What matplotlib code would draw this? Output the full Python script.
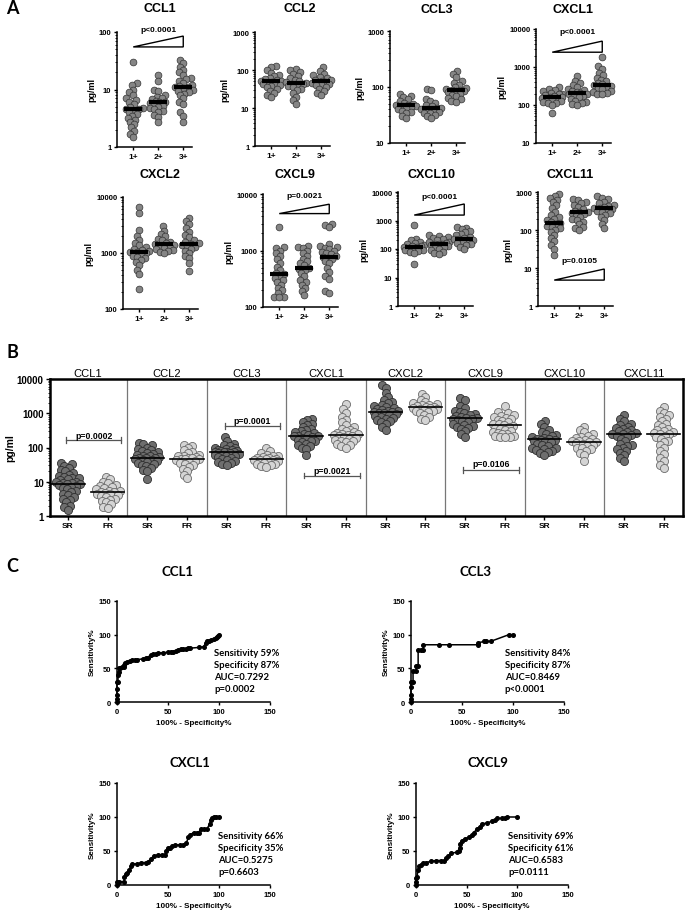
import numpy as np
import matplotlib
matplotlib.use("Agg")
import matplotlib.pyplot as plt
from matplotlib.ticker import LogLocator, NullFormatter
import matplotlib.transforms as mtransforms

plt.rcParams['font.family'] = ['Liberation Sans', 'DejaVu Sans']

# ---------------- panel A data (pg/ml by grade 1+, 2+, 3+) ----------------
ccl1_a = [
    [30, 13, 12, 10, 9, 8, 7, 6.5, 6, 5.5, 5, 4.8, 4.6, 4.5, 4.3, 4, 3.8, 3.5, 3.2, 3, 2.7, 2.5, 2.2, 1.9, 1.7, 1.5],
    [18, 14, 10, 9.5, 8, 7.5, 7, 6.8, 6.3, 6.1, 6, 5.8, 5.5, 5.2, 5, 4.7, 4.5, 4.2, 4, 3.6, 3.3, 2.7],
    [33, 29, 25, 22, 20, 18, 16, 15, 14, 13, 12, 11.5, 11, 11, 10.5, 10, 9.5, 9, 8.5, 8, 7, 6, 5.5, 4, 3.5, 2.7],
]
ccl2_a = [
    [130, 120, 100, 85, 75, 68, 62, 58, 55, 52, 50, 48, 46, 44, 42, 40, 38, 35, 32, 28, 25, 22, 20],
    [105, 100, 90, 80, 70, 62, 56, 50, 47, 45, 44, 42, 40, 38, 35, 32, 30, 25, 20, 16, 13],
    [120, 95, 80, 72, 65, 60, 56, 53, 50, 49, 48, 46, 44, 42, 40, 36, 32, 28, 25, 22],
]
ccl3_a = [
    [75, 70, 65, 60, 56, 52, 50, 48, 47, 46, 45, 44, 42, 40, 38, 36, 34, 30, 28],
    [92, 88, 60, 56, 52, 48, 45, 43, 42, 41, 40, 38, 36, 35, 34, 32, 30, 28],
    [190, 170, 150, 130, 120, 110, 100, 95, 92, 90, 88, 86, 84, 80, 76, 72, 68, 64, 60, 56, 55],
]
cxcl1_a = [
    [290, 270, 250, 230, 210, 200, 190, 180, 170, 165, 160, 155, 150, 145, 140, 130, 120, 115, 110, 100, 60],
    [580, 420, 380, 330, 300, 270, 250, 230, 215, 205, 200, 190, 180, 170, 160, 140, 130, 120, 110, 105, 100],
    [1800, 1050, 900, 700, 600, 520, 460, 420, 380, 350, 330, 320, 300, 280, 260, 240, 220, 210, 200, 190],
]
cxcl2_a = [
    [6500, 5200, 2600, 2000, 1700, 1500, 1400, 1300, 1200, 1150, 1100, 1050, 1050, 1000, 950, 900, 850, 800, 750, 700, 600, 500, 420, 230],
    [3000, 2500, 2200, 2000, 1800, 1700, 1600, 1500, 1450, 1400, 1350, 1300, 1250, 1200, 1150, 1100, 1050, 1000],
    [4300, 3800, 3300, 2800, 2400, 2100, 1900, 1700, 1600, 1500, 1450, 1400, 1350, 1300, 1200, 1100, 1000, 900, 800, 650, 480],
]
cxcl9_a = [
    [2600, 1150, 1100, 1000, 900, 800, 700, 600, 520, 450, 400, 380, 350, 330, 300, 280, 250, 220, 200, 180, 150, 150, 150],
    [1200, 1150, 1100, 1000, 900, 800, 720, 650, 600, 550, 500, 480, 450, 400, 350, 300, 280, 250, 220, 190, 160],
    [3000, 2800, 2600, 1300, 1200, 1150, 1100, 1050, 1000, 950, 900, 850, 800, 780, 750, 700, 650, 600, 500, 420, 350, 310, 190, 180],
]
cxcl10_a = [
    [700, 230, 200, 180, 160, 150, 140, 130, 125, 120, 115, 110, 100, 95, 90, 85, 80, 70, 30],
    [300, 280, 260, 240, 220, 200, 180, 170, 160, 155, 150, 145, 140, 130, 120, 110, 100, 90, 80, 70, 65],
    [600, 550, 500, 420, 380, 330, 300, 270, 250, 230, 220, 210, 200, 180, 160, 150, 140, 120, 100],
]
cxcl11_a = [
    [900, 800, 700, 600, 550, 450, 380, 300, 250, 220, 200, 180, 160, 150, 140, 130, 120, 110, 100, 90, 75, 60, 50, 40, 32, 22],
    [650, 600, 550, 500, 450, 400, 350, 320, 300, 290, 280, 260, 240, 220, 200, 180, 160, 140, 120, 110, 100],
    [800, 700, 650, 550, 500, 450, 420, 400, 380, 370, 360, 340, 320, 300, 280, 250, 220, 180, 140, 110],
]
a_names = ['CCL1', 'CCL2', 'CCL3', 'CXCL1', 'CXCL2', 'CXCL9', 'CXCL10', 'CXCL11']
a_data = [ccl1_a, ccl2_a, ccl3_a, cxcl1_a, cxcl2_a, cxcl9_a, cxcl10_a, cxcl11_a]
a_medians = [[4.6, 6.1, 11], [52, 45, 50], [47, 42, 88], [165, 205, 330],
             [1050, 1450, 1450], [390, 490, 780], [120, 150, 220], [150, 290, 370]]
a_yticks = [[1, 10, 100], [1, 10, 100, 1000], [10, 100, 1000], [10, 100, 1000, 10000],
            [100, 1000, 10000], [100, 1000, 10000], [1, 10, 100, 1000, 10000], [1, 10, 100, 1000]]
a_grades = ['1+', '2+', '3+']
# trend triangles: low, high, p text, text y
a_trends = {
    'CCL1': (55, 85, 'p<0.0001', 110),
    'CXCL1': (2450, 4800, 'p<0.0001', 8600),
    'CXCL9': (4500, 6600, 'p=0.0021', 9600),
    'CXCL10': (1550, 3800, 'p<0.0001', 7200),
    'CXCL11': (4.8, 9.4, 'p=0.0105', 16),
}

# ---------------- panel B data (SR vs FR) ----------------
b_names = ['CCL1', 'CCL2', 'CCL3', 'CXCL1', 'CXCL2', 'CXCL9', 'CXCL10', 'CXCL11']
b_sr = [
    [35, 32, 28, 25, 22, 20, 18, 16, 15, 14, 13, 13, 12, 11, 10, 10, 9.5, 9, 8.5, 8.5, 8, 7.5, 7, 6.5, 6, 5.5, 5, 4.5, 4, 3.5, 3.2, 3, 2.5, 2, 1.8, 1.5],
    [135, 125, 115, 100, 90, 85, 80, 75, 70, 65, 60, 58, 55, 52, 50, 50, 48, 46, 44, 42, 40, 38, 35, 32, 30, 28, 25, 22, 20, 12],
    [200, 150, 130, 120, 110, 100, 95, 90, 85, 82, 80, 78, 76, 75, 74, 72, 70, 68, 65, 62, 60, 58, 55, 52, 50, 45, 42, 40, 38, 35, 32, 30],
    [700, 650, 550, 500, 450, 400, 350, 320, 300, 280, 260, 240, 230, 220, 210, 210, 200, 190, 180, 170, 160, 150, 140, 130, 120, 110, 100, 90, 60],
    [6500, 5500, 4000, 3000, 2500, 2200, 2000, 1800, 1600, 1500, 1400, 1300, 1250, 1200, 1150, 1100, 1070, 1050, 1000, 950, 900, 850, 800, 750, 700, 650, 600, 550, 500, 400, 330],
    [2700, 2500, 1600, 1400, 1200, 1100, 1000, 950, 900, 850, 800, 750, 720, 700, 680, 650, 600, 550, 500, 450, 420, 400, 380, 350, 300, 250, 200],
    [600, 500, 400, 320, 280, 250, 230, 210, 200, 190, 180, 175, 170, 165, 160, 150, 140, 130, 120, 110, 100, 95, 90, 85, 80, 75, 70, 60],
    [900, 700, 600, 500, 450, 400, 370, 350, 320, 300, 280, 260, 250, 240, 230, 220, 200, 180, 150, 130, 120, 110, 100, 90, 80, 70, 60, 50, 40],
]
b_fr = [
    [14, 12, 10, 9, 8, 7.5, 7, 6.5, 6, 5.5, 5.2, 5, 5, 4.8, 4.5, 4.3, 4, 3.8, 3.5, 3.2, 3, 2.8, 2.5, 2.2, 1.8, 1.7],
    [120, 110, 100, 85, 75, 70, 62, 58, 55, 52, 50, 48, 47, 46, 45, 42, 40, 38, 36, 33, 30, 27, 24, 20, 16, 13],
    [95, 80, 70, 62, 58, 55, 52, 50, 48, 46, 45, 44, 43, 42, 40, 38, 36, 34, 32, 30, 28, 27],
    [1850, 1300, 1000, 800, 650, 550, 450, 400, 350, 320, 300, 280, 260, 250, 240, 230, 225, 220, 210, 200, 190, 180, 170, 160, 150, 140, 130, 120, 110, 100],
    [3700, 3000, 2500, 2200, 2000, 1900, 1800, 1700, 1600, 1550, 1500, 1450, 1400, 1350, 1300, 1250, 1200, 1150, 1100, 1000, 900, 800, 700, 650],
    [1600, 1100, 1000, 900, 850, 800, 750, 700, 650, 600, 550, 500, 470, 450, 430, 400, 380, 350, 330, 300, 280, 260, 250, 240, 220, 210, 200, 200, 200],
    [400, 320, 280, 250, 220, 200, 190, 180, 170, 160, 150, 145, 140, 135, 130, 120, 110, 100, 95, 90, 80, 70, 60, 40],
    [1500, 1200, 1000, 900, 800, 700, 600, 500, 450, 400, 350, 320, 300, 280, 260, 250, 240, 220, 200, 180, 160, 140, 120, 100, 80, 65, 50, 40, 30, 25],
]
b_med_sr = [8.5, 50, 75, 210, 1070, 720, 175, 250]
b_med_fr = [5, 47, 45, 230, 1500, 450, 145, 250]
# significance brackets: group index, bracket level, text level, text
b_sig = [(0, 165, 230, 'p=0.0002'), (2, 420, 630, 'p=0.0001'),
         (3, 15, 22, 'p=0.0021'), (5, 22, 35, 'p=0.0106')]

# ---------------- panel C data (ROC curves) ----------------
roc_names = ['CCL1', 'CCL3', 'CXCL1', 'CXCL9']
roc_fpr = [
    [0, 0, 0, 0, 0, 1, 1, 2, 2, 3, 5, 7, 7, 8, 10, 13, 15, 18, 20, 25, 28, 30, 33, 35, 38, 40, 45, 50, 53, 55, 58, 60, 63, 65, 68, 70, 72, 80, 85, 87, 88, 90, 92, 95, 97, 98, 99, 100],
    [0, 0, 0, 0, 0, 2, 2, 5, 5, 7, 7, 10, 12, 12, 27, 37, 66, 66, 72, 74, 78, 96, 100],
    [0, 0, 2, 7, 7, 9, 10, 12, 14, 15, 20, 24, 28, 30, 33, 36, 40, 44, 47, 48, 50, 52, 54, 57, 62, 65, 68, 70, 72, 75, 78, 80, 82, 85, 88, 91, 92, 93, 95, 97, 100],
    [0, 0, 0, 1, 2, 3, 5, 7, 10, 15, 20, 25, 28, 30, 32, 35, 40, 42, 43, 43, 45, 48, 52, 55, 57, 60, 63, 65, 70, 75, 78, 80, 85, 88, 90, 100],
]
roc_tpr = [
    [0, 5, 10, 20, 30, 30, 40, 45, 50, 50, 52, 52, 55, 58, 60, 61, 62, 62, 63, 64, 65, 66, 70, 71, 72, 73, 73, 74, 75, 75, 76, 77, 78, 79, 79, 80, 80, 81, 82, 88, 91, 91, 92, 93, 95, 96, 98, 100],
    [0, 5, 10, 22, 30, 30, 46, 46, 54, 54, 77, 77, 77, 85, 85, 85, 85, 88, 90, 90, 90, 100, 100],
    [0, 5, 5, 5, 12, 16, 18, 22, 28, 31, 31, 33, 33, 34, 38, 43, 44, 44, 44, 50, 54, 55, 57, 59, 59, 59, 62, 70, 74, 77, 77, 77, 82, 82, 82, 90, 96, 98, 100, 100, 100],
    [0, 5, 10, 12, 22, 28, 30, 33, 33, 35, 36, 36, 36, 40, 42, 47, 48, 50, 55, 60, 65, 68, 70, 74, 77, 82, 86, 90, 91, 94, 95, 98, 98, 98, 100, 100],
]
roc_stats = [
    ['Sensitivity 59%', 'Specificity 87%', 'AUC=0.7292', 'p=0.0002'],
    ['Sensitivity 84%', 'Specificity 87%', 'AUC=0.8469', 'p<0.0001'],
    ['Sensitivity 66%', 'Specificity 35%', 'AUC=0.5275', 'p=0.6603'],
    ['Sensitivity 69%', 'Specificity 61%', 'AUC=0.6583', 'p=0.0111'],
]

W, H = 685, 912
fig = plt.figure(figsize=(W / 100, H / 100), dpi=100)


def px_axes(l, t, r, b):
    return fig.add_axes([l / W, 1 - b / H, (r - l) / W, (b - t) / H])


def ftext(x, y, s, **kw):
    fig.text(x / W, 1 - y / H, s, ha='center', va='center', **kw)


def swarm(ax, xc, vals, d, wmax):
    # beeswarm in pixel space, offsets limited to +-wmax px (overlap allowed past that)
    pts = ax.transData.transform(np.column_stack([np.full(len(vals), xc), vals]))
    ys = pts[:, 1]
    grid = np.array(sorted(np.arange(-wmax, wmax + 0.01, 0.5), key=abs))
    xs = np.zeros(len(ys))
    px, py = [], []
    for i in np.argsort(ys):
        y = ys[i]
        if px:
            dist = np.sqrt((grid[:, None] - np.array(px)[None, :]) ** 2 + (y - np.array(py)[None, :]) ** 2).min(axis=1)
            ok = np.nonzero(dist >= d)[0]
            xs[i] = grid[ok[0]] if len(ok) else grid[np.argmax(dist)]
        px.append(xs[i])
        py.append(y)
    pts[:, 0] = pts[:, 0] + xs
    return ax.transData.inverted().transform(pts)[:, 0]


def log_axis(ax, ticks, size):
    ax.set_yscale('log')
    ax.set_ylim(ticks[0], ticks[-1])
    ax.set_yticks(ticks)
    ax.set_yticklabels([str(t) for t in ticks], fontweight='bold', fontsize=size)
    ax.yaxis.set_minor_locator(LogLocator(base=10, subs=np.arange(2, 10), numticks=20))
    ax.yaxis.set_minor_formatter(NullFormatter())


# ---------------- panel A ----------------
a_boxes = [(117, 33, 192, 148), (255, 33, 330, 147), (390, 32, 465, 144), (536, 30, 611, 144),
           (123, 198, 198, 310), (263, 195, 338, 308), (398, 193, 473, 307), (538, 193, 613, 307)]
a_titles = [(160, 9), (300, 9), (437, 10), (573, 10), (160, 175), (295, 175), (432, 175), (570, 175)]

for k in range(8):
    ax = px_axes(*a_boxes[k])
    log_axis(ax, a_yticks[k], 5.5)
    ax.set_xlim(0.35, 3.35)
    for i, vals in enumerate(a_data[k]):
        x = swarm(ax, i + 1, vals, 4.6, 10)
        ax.scatter(x, vals, s=24, c='#858585', edgecolors='#333333', linewidths=0.5, zorder=3, clip_on=False)
        m = a_medians[k][i]
        ax.plot([i + 1 - 0.36, i + 1 + 0.36], [m, m], color='black', lw=3, solid_capstyle='butt', zorder=4)
    ax.set_xticks([1, 2, 3])
    ax.set_xticklabels(a_grades, fontweight='bold', fontsize=6)
    ax.set_ylabel('pg/ml', fontweight='bold', fontsize=6.5, labelpad=2)
    for s in ['top', 'right']:
        ax.spines[s].set_visible(False)
    for s in ['left', 'bottom']:
        ax.spines[s].set_linewidth(1.1)
    ax.tick_params(which='major', length=2.5, width=1, pad=1.5)
    ax.tick_params(which='minor', length=1.3, width=0.6)
    name = a_names[k]
    if name in a_trends:
        lo, hi, ptxt, ty = a_trends[name]
        ax.fill([1, 3, 3], [lo, hi, lo], facecolor='white', edgecolor='black', lw=1, clip_on=False, zorder=5)
        ax.text(2, ty, ptxt, ha='center', va='center', fontsize=6, fontweight='bold', clip_on=False)
    ftext(*a_titles[k], name, fontsize=9, fontweight='bold')

# ---------------- panel B ----------------
axb = px_axes(50, 380, 683, 517)
log_axis(axb, [1, 10, 100, 1000, 10000], 7)
axb.set_xlim(-0.45, 15.49)
for g in range(8):
    for j, (vals, med, fc, ec) in enumerate([(b_sr[g], b_med_sr[g], '#6e6e6e', '#2e2e2e'),
                                            (b_fr[g], b_med_fr[g], '#d4d4d4', '#6a6a6a')]):
        xc = 2 * g + j
        x = swarm(axb, xc, vals, 4.6, 12)
        axb.scatter(x, vals, s=34, c=fc, edgecolors=ec, linewidths=0.6, zorder=3)
        axb.plot([xc - 0.42, xc + 0.42], [med, med], color='black', lw=1.2, zorder=4)
    if g < 7:
        axb.axvline(2 * g + 1.5, color='#777777', lw=0.9, zorder=1)
    axb.text(2 * g + 0.5, 1.01, b_names[g], transform=mtransforms.blended_transform_factory(axb.transData, axb.transAxes),
             ha='center', va='bottom', fontsize=8)
for g, lev, tlev, txt in b_sig:
    x0, x1 = 2 * g - 0.05, 2 * g + 1.35
    axb.plot([x0, x1], [lev, lev], color='#555555', lw=0.9, zorder=5)
    for xe in (x0, x1):
        axb.plot([xe, xe], [lev / 1.2, lev * 1.2], color='#555555', lw=0.9, zorder=5)
    axb.text((x0 + x1) / 2, tlev, txt, ha='center', va='center', fontsize=6.3, fontweight='bold', zorder=6)
axb.set_xticks(range(16))
axb.set_xticklabels(['SR', 'FR'] * 8, fontweight='bold', fontsize=6)
axb.set_ylabel('pg/ml', fontweight='bold', fontsize=7.5, labelpad=1)
for s in axb.spines.values():
    s.set_linewidth(1.8)
axb.tick_params(which='major', length=3, width=1, pad=1.5)
axb.tick_params(which='minor', length=1.8, width=0.6)

# ---------------- panel C ----------------
c_boxes = [(117, 602, 270, 703), (411, 602, 564, 703), (117, 784, 270, 886), (416, 784, 568, 886)]
c_titles = [(178, 572), (475, 572), (190, 763), (488, 763)]
c_text_x = [95, 92, 99, 91]
for k in range(4):
    ax = px_axes(*c_boxes[k])
    ax.plot(roc_fpr[k], roc_tpr[k], color='black', lw=1.1, marker='o', ms=2.6, clip_on=False, zorder=3)
    ax.set_xlim(0, 150)
    ax.set_ylim(0, 150)
    ax.set_xticks([0, 50, 100, 150])
    ax.set_yticks([0, 50, 100, 150])
    ax.set_xticklabels(['0', '50', '100', '150'], fontweight='bold', fontsize=5.5)
    ax.set_yticklabels(['0', '50', '100', '150'], fontweight='bold', fontsize=5.5)
    ax.set_xlabel('100% - Specificity%', fontweight='bold', fontsize=5.8, labelpad=3)
    ax.set_ylabel('Sensitivity%', fontweight='bold', fontsize=5.8, labelpad=2)
    for s in ['top', 'right']:
        ax.spines[s].set_visible(False)
    for s in ['left', 'bottom']:
        ax.spines[s].set_linewidth(1.1)
    ax.tick_params(length=2.5, width=1, pad=1.5)
    for i, line in enumerate(roc_stats[k]):
        ax.text(c_text_x[k], 73 - 17.7 * i, line, ha='left', va='center', fontsize=6.8,
                family=['Lato', 'DejaVu Sans'], fontweight='bold')
    ftext(*c_titles[k], roc_names[k], fontsize=9.5, fontweight='bold', family=['Lato', 'DejaVu Sans'])

# panel letters
ftext(12, 9, 'A', fontsize=13, fontweight='bold', family=['Lato', 'DejaVu Sans'])
ftext(12, 353, 'B', fontsize=13, fontweight='bold', family=['Lato', 'DejaVu Sans'])
ftext(12, 566, 'C', fontsize=13, fontweight='bold', family=['Lato', 'DejaVu Sans'])

fig.savefig('out.png', dpi=100)
